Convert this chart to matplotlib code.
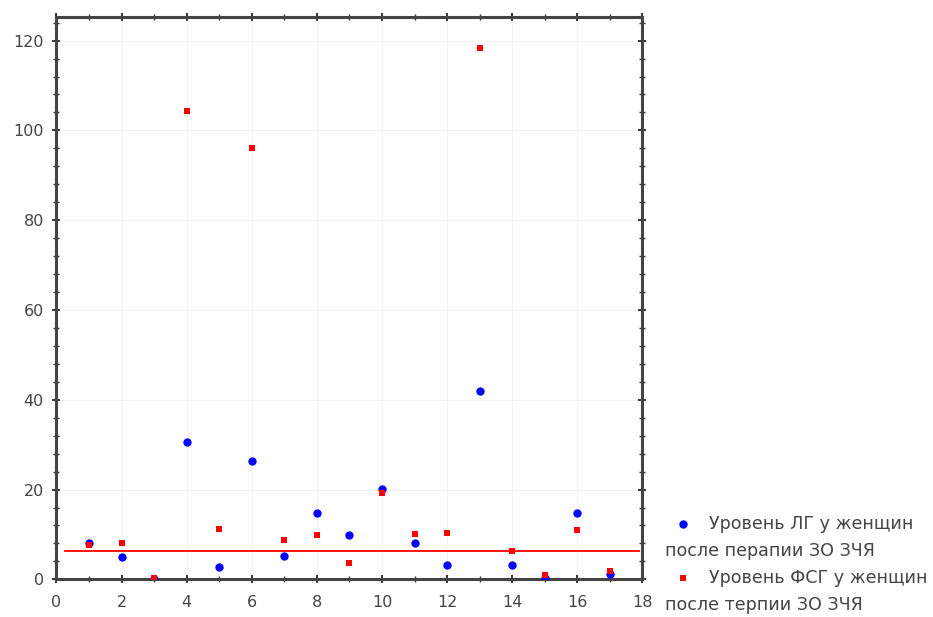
import matplotlib
matplotlib.use("Agg")
import matplotlib.pyplot as plt
from matplotlib.ticker import MultipleLocator
from matplotlib.lines import Line2D

plt.rcParams['font.family'] = ['DejaVu Sans']

# Patient number
patients = list(range(1, 18))
# LH level after therapy
lh = [8.0, 4.9, 0.0, 30.7, 2.7, 26.3, 5.3, 14.7, 9.8, 20.1, 8.0, 3.1, 41.9, 3.1, 0.4, 14.7, 1.2]
# FSH level after therapy
fsh = [7.7, 8.1, 0.2, 104.4, 11.3, 96.0, 8.7, 9.9, 3.7, 19.3, 10.0, 10.4, 118.3, 6.4, 1.0, 10.9, 1.9]
# Reference level line
ref_level = 6.4
ref_span = [0.25, 17.9]

legend_lines = [
    ("Уровень ЛГ у женщин", "после перапии ЗО ЗЧЯ"),
    ("Уровень ФСГ у женщин", "после терпии ЗО ЗЧЯ"),
]

fig = plt.figure(figsize=(9.33, 6.17), dpi=100)
ax = fig.add_axes([0.0605, 0.061, 0.628, 0.911])

ax.plot(patients, lh, linestyle='none', marker='o', markersize=6,
        color='#0000ff', markeredgewidth=0, zorder=3)
ax.plot(patients, fsh, linestyle='none', marker='s', markersize=4.6,
        color='#ff0000', markeredgewidth=0, zorder=3)
ax.plot(ref_span, [ref_level, ref_level], color='#ff0000', linewidth=1.3, zorder=2)

ax.set_xlim(0, 18)
ax.set_ylim(0, 125.2)
ax.xaxis.set_major_locator(MultipleLocator(2))
ax.xaxis.set_minor_locator(MultipleLocator(1))
ax.yaxis.set_major_locator(MultipleLocator(20))
ax.yaxis.set_minor_locator(MultipleLocator(4))
ax.tick_params(which='both', direction='inout', top=True, right=True,
               color='#333333', labelcolor='#444444', labelsize=11.5)
ax.tick_params(which='major', length=6, width=1.4)
ax.tick_params(which='minor', length=4, width=1.0)
ax.tick_params(axis='x', pad=8)
ax.tick_params(axis='y', pad=6)
ax.grid(True, which='major', color='#f0f0f0', linewidth=0.6)
for s in ax.spines.values():
    s.set_linewidth(2.2)
    s.set_color('#444444')

# Legend drawn to the right of the axes, with wrapped labels
W, H = 933, 617
def fx(px):
    return px / W
def fy(py):
    return 1 - py / H

markers = [('o', '#0000ff', 6), ('s', '#ff0000', 4.6)]
rows = [(524, 551), (578, 605)]
for (first, second), (m, c, ms), (y1, y2) in zip(legend_lines, markers, rows):
    fig.add_artist(Line2D([fx(683)], [fy(y1)], marker=m, color=c, markersize=ms,
                          markeredgewidth=0, linestyle='none',
                          transform=fig.transFigure))
    fig.text(fx(709), fy(y1), first, fontsize=12.6, color='#444444',
             va='center', ha='left')
    fig.text(fx(665), fy(y2), second, fontsize=12.6, color='#444444',
             va='center', ha='left')

fig.savefig("out.png", dpi=100)
